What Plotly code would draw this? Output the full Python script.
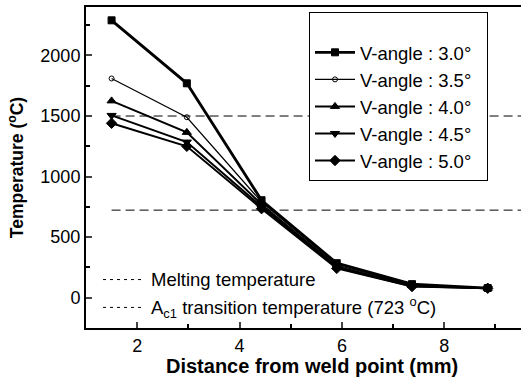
import plotly.graph_objects as go

distance = [1.5, 2.97, 4.43, 5.9, 7.37, 8.85]
t_30 = [2290, 1770, 805, 285, 112, 80]
t_35 = [1810, 1490, 790, 270, 105, 80]
t_40 = [1625, 1365, 770, 258, 100, 78]
t_45 = [1505, 1285, 752, 248, 95, 78]
t_50 = [1440, 1250, 735, 242, 92, 78]
labels = ["V-angle : 3.0°", "V-angle : 3.5°", "V-angle : 4.0°",
          "V-angle : 4.5°", "V-angle : 5.0°"]
melting_temp = 1500
ac1_temp = 723
ref_x = [1.5, 9.5]

FONT = "Liberation Sans, Arial, sans-serif"

series = [
    (t_30, "square", 7, 2.8, "black"),
    (t_35, "circle-open", 5, 1.2, "black"),
    (t_40, "triangle-up", 8, 2.0, "black"),
    (t_45, "triangle-down", 8, 2.0, "black"),
    (t_50, "diamond", 8, 2.0, "black"),
]

fig = go.Figure()
for (ys, sym, size, lw, col), name in zip(series, labels):
    fig.add_trace(go.Scatter(
        x=distance, y=ys, name=name + "&nbsp;&nbsp;", mode="lines+markers",
        line=dict(color=col, width=lw),
        marker=dict(symbol=sym, size=size, color=col, line=dict(color=col, width=1)),
    ))

# reference lines
for yv in (melting_temp, ac1_temp):
    fig.add_trace(go.Scatter(
        x=ref_x, y=[yv, yv], mode="lines", showlegend=False,
        line=dict(color="black", width=1, dash="9px,5px"), hoverinfo="skip",
    ))

# bottom-left reference legend
fig.add_shape(type="line", xref="paper", yref="y", x0=(103-86)/435, x1=(143-86)/435,
              y0=150, y1=150, line=dict(color="black", width=1, dash="3px,4px"))
fig.add_shape(type="line", xref="paper", yref="y", x0=(103-86)/435, x1=(143-86)/435,
              y0=-80, y1=-80, line=dict(color="black", width=1, dash="3px,4px"))
fig.add_annotation(text="Melting temperature", xref="paper", yref="y",
                   x=(149-86)/435, y=150, xanchor="left", yanchor="middle",
                   showarrow=False, font=dict(size=18.5, color="black", family=FONT))
fig.add_annotation(text="A<sub>c1</sub> transition temperature (723 <sup>o</sup>C)", xref="paper", yref="y",
                   x=(149-86)/435, y=-80, xanchor="left", yanchor="middle",
                   showarrow=False, font=dict(size=18.5, color="black", family=FONT))

# x-axis title
fig.add_annotation(text="<b>Distance from weld point (mm)</b>", xref="paper", yref="paper",
                   x=(312-86)/435, y=-(366-328)/321, xanchor="center", yanchor="middle",
                   showarrow=False, font=dict(size=20, color="black", family=FONT))

fig.update_layout(
    width=521, height=378,
    margin=dict(l=86, r=0, t=7, b=50),
    paper_bgcolor="white", plot_bgcolor="white",
    font=dict(family=FONT, color="black", size=18),
    legend=dict(
        x=(309-86)/435, y=(328-12)/321, xanchor="left", yanchor="top",
        bordercolor="black", borderwidth=1, bgcolor="white",
        font=dict(size=18.5, family=FONT, color="black"),
        tracegroupgap=0, itemwidth=40,
        title=dict(text=" ", font=dict(size=16)),
    ),
    xaxis=dict(
        range=[1, 9.5], tickvals=[2, 4, 6, 8], ticks="inside", ticklen=6,
        tickwidth=1.5, showline=True, linewidth=2, linecolor="black", mirror=True,
        showgrid=False, zeroline=False, tickfont=dict(size=18),
        minor=dict(tickvals=[3, 5, 7, 9], ticks="inside", ticklen=4, tickcolor="black"),
    ),
    yaxis=dict(
        range=[-250, 2400], tickvals=[0, 500, 1000, 1500, 2000], ticks="inside", ticklen=6,
        tickwidth=1.5, showline=True, linewidth=2, linecolor="black",
        showgrid=False, zeroline=False, tickfont=dict(size=18),
        minor=dict(tickvals=[250, 750, 1250, 1750, 2250], ticks="inside", ticklen=4, tickcolor="black"),
        title=dict(text="<b>Temperature (<sup>o</sup>C)</b>", font=dict(size=17.5), standoff=12),
    ),
)

fig.write_html("out.html")
